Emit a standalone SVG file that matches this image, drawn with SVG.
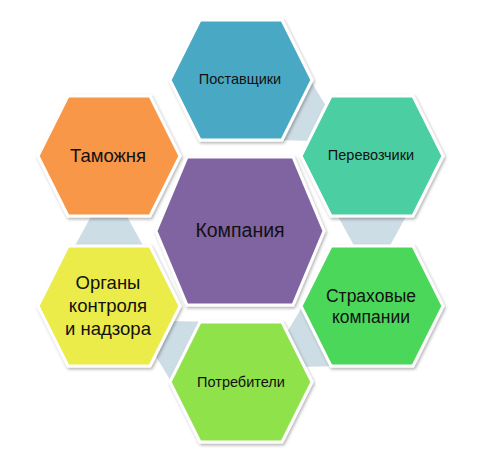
<svg xmlns="http://www.w3.org/2000/svg" width="479" height="471" viewBox="0 0 479 471">
<defs>
<filter id="sh" x="-20%" y="-20%" width="140%" height="140%">
<feDropShadow dx="1.2" dy="1.8" stdDeviation="1.4" flood-color="#000" flood-opacity="0.3"/>
</filter>
<style>
.hex{stroke:#fff;stroke-width:3;stroke-linejoin:miter;filter:url(#sh)}
.con{fill:#cddde5;stroke:none}
text{font-family:"Liberation Sans","Noto Sans",sans-serif;fill:#111;text-anchor:middle}
.s{font-size:14.5px}
.l{font-size:18.5px}
.m{font-size:17.5px}
.c{font-size:19.5px}
</style>
</defs>
<rect width="479" height="471" fill="#fff"/>
<g id="connectors">
<polygon class="con" points="259.2,139.7 327.7,141.3 337.2,124.8 301.9,66.2"/>
<polygon class="con" points="329.5,201 362.5,261 381.5,261 414.5,201"/>
<polygon class="con" points="311.1,292.2 275.8,350.8 285.3,367.3 353.8,365.7"/>
<polygon class="con" points="222.2,322.1 153.7,320.8 144.3,337.3 179.8,395.8"/>
<polygon class="con" points="151.5,261 118.5,201 99.5,201 66.5,261"/>
</g>
<g id="node-postavshchiki">
<polygon class="hex" fill="#4aa9c4" points="170,80 200,20 282,20 312,80 282,140 200,140"/>
<text class="s" x="240" y="84">Поставщики</text>
</g>
<g id="node-perevozchiki">
<polygon class="hex" fill="#4ccfa2" points="301,156 331,96 413,96 443,156 413,216 331,216"/>
<text class="s" x="371" y="160">Перевозчики</text>
</g>
<g id="node-strakhovye">
<polygon class="hex" fill="#4bd85a" points="301,306 331,246 413,246 443,306 413,366 331,366"/>
<text class="m" x="371" y="302">Страховые</text>
<text class="m" x="371" y="323">компании</text>
</g>
<g id="node-potrebiteli">
<polygon class="hex" fill="#8fe24a" points="170,382 200,322 282,322 312,382 282,442 200,442"/>
<text class="s" x="241" y="387">Потребители</text>
</g>
<g id="node-organy">
<polygon class="hex" fill="#ebeb48" points="38,306 68,246 150,246 180,306 150,366 68,366"/>
<text class="l" x="108" y="289">Органы</text>
<text class="l" x="108" y="312">контроля</text>
<text class="l" x="108" y="335">и надзора</text>
</g>
<g id="node-tamozhnya">
<polygon class="hex" fill="#f79747" points="38,156 68,96 150,96 180,156 150,216 68,216"/>
<text class="l" x="108" y="162">Таможня</text>
</g>
<g id="node-kompaniya">
<polygon class="hex" fill="#8063a1" points="156,231 187,157 293,157 324,231 293,305 187,305"/>
<text class="c" x="240" y="237">Компания</text>
</g>
</svg>
